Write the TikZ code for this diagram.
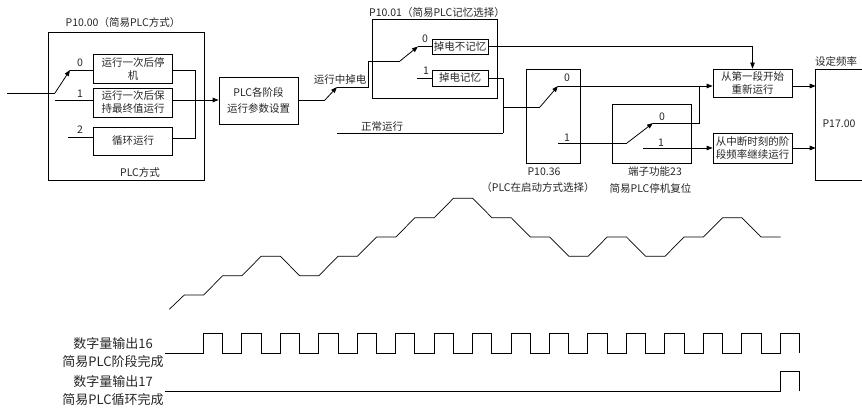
\documentclass[tikz,border=0pt]{standalone}
\usepackage{fontspec}
\setmainfont{Noto Sans CJK SC}
\usetikzlibrary{arrows.meta, positioning}

\begin{document}
\begin{tikzpicture}[x=1pt, y=-1pt,
  panel/.style={draw, line width=0.8pt, inner sep=0pt},
  box/.style={draw, line width=0.8pt, minimum width=79pt, align=center, inner sep=1pt, text=black!85, font=\fontsize{10.5}{13}\selectfont},
  wire/.style={line width=0.8pt},
  sig/.style={wire, -{Triangle[length=6pt, width=4.5pt]}},
  tag/.style={inner sep=1pt, text=black!85, font=\fontsize{10.5}{13}\selectfont},
  bigtag/.style={align=center, text=black!85, font=\fontsize{13}{18}\selectfont}
]
  \useasboundingbox (0,0) rectangle (862,409);

  % PLC mode block (P10.00)
  \node[panel, minimum width=156pt, minimum height=148pt] (pmode) at (126,106) {};
  \node[tag] (pmodet) at (123,23) {P10.00（简易PLC方式）};
  \node[tag] (pmodeb) at (140,172) {PLC方式};
  \node[box, minimum height=29pt] (once) at (133,68.5) {运行一次后停\\机};
  \node[box, minimum height=29pt] (hold) at (133,102.5) {运行一次后保\\持最终值运行};
  \node[box, minimum height=28pt] (cyc)  at (133,141) {循环运行};

  % switch points of the mode selector
  \coordinate (in) at (7,93);
  \coordinate (pv) at (55,93);
  \coordinate (c0) at (70,70);
  \coordinate (c1) at (55,100);
  \coordinate (c2) at (68,137);
  \coordinate (mj) at (195,138);
  \node[tag] (n0) at (80,63) {0};
  \node[tag] (n1) at (80,94) {1};
  \node[tag] (n2) at (80,130) {2};

  \draw[wire] (in) -- (pv);
  \draw[sig] (pv) -- (c0);
  \draw[wire] (c0) -- (once.west |- c0);
  \draw[wire] (c1) -- (hold.west |- c1);
  \draw[wire] (c2) -- (cyc.west |- c2);
  \draw[wire] (once.east |- c0) -| (mj) -- (cyc.east |- mj);

  % stage parameters
  \node[box, minimum height=47pt, font=\fontsize{10.5}{16}\selectfont] (par) at (258.5,100.5) {PLC各阶段\\运行参数设置};
  \draw[sig] (hold.east |- c1) -- (par.west |- c1);

  % power loss memory (P10.01)
  \node[panel, minimum width=125pt, minimum height=79pt] (pmem) at (434.5,58.5) {};
  \node[tag] (pmemt) at (437,13) {P10.01（简易PLC记忆选择）};
  \node[box, minimum width=56pt, minimum height=15pt] (nm)  at (460,46.5) {掉电不记忆};
  \node[box, minimum width=56pt, minimum height=16pt] (mem) at (460,78) {掉电记忆};
  \node[tag] (m0) at (425,39) {0};
  \node[tag] (m1) at (426,71) {1};
  \node[tag] (lost) at (340,80) {运行中掉电};
  \node[tag] (norm) at (382,127) {正常运行};

  \coordinate (p1) at (325,100);
  \coordinate (p2) at (337,87);
  \coordinate (p3) at (368,61);
  \coordinate (p4) at (400,61);
  \coordinate (p5) at (418,46.5);
  \coordinate (q1) at (417,78);
  \coordinate (nr) at (337,133);
  \coordinate (j1) at (503,133);
  \coordinate (j2) at (503,107);

  \draw[wire] (par.east |- p1) -- (p1);
  \draw[sig] (p1) -- (p2);
  \draw[wire] (p2) -| (p3) -- (p4);
  \draw[sig] (p4) -- (p5);
  \draw[wire] (p5) -- (nm.west);
  \draw[wire] (q1) -- (mem.west);
  \draw[wire] (mem.east) -| (j1);
  \draw[wire] (nr) -- (j1);

  % restart mode (P10.36)
  \node[panel, minimum width=54pt, minimum height=94pt] (pst) at (553,116) {};
  \node[tag] (pstt) at (544,172) {P10.36};
  \node[tag] (pstb) at (538,188) {（PLC在启动方式选择）};
  \node[tag] (k0) at (567,78) {0};
  \node[tag] (k1) at (567,138) {1};

  % terminal function 23
  \node[panel, minimum width=79pt, minimum height=59pt] (trm) at (651.5,133.5) {};
  \node[tag] (trmt) at (655,172) {端子功能23};
  \node[tag] (trmb) at (650.5,188) {简易PLC停机复位};
  \node[tag] (h0) at (662,117) {0};
  \node[tag] (h1) at (661,143) {1};

  % run modes
  \node[box, minimum height=28pt] (r1) at (752.5,83) {从第一段开始\\重新运行};
  \node[box, minimum height=30pt] (r2) at (752.5,148) {从中断时刻的阶\\段频率继续运行};

  \coordinate (s0) at (540,107);
  \coordinate (s1) at (558,86);
  \coordinate (t0) at (558,143);
  \coordinate (t1) at (627,143);
  \coordinate (t2) at (653,123);
  \coordinate (t3) at (699,86);
  \coordinate (u0) at (643,148);

  \draw[wire] (j2) -- (s0);
  \draw[sig] (s0) -- (s1);
  \draw[sig] (s1) -- (r1.west |- s1);
  \draw[wire] (t0) -- (t1);
  \draw[sig] (t1) -- (t2);
  \draw[wire] (t2) -| (t3);
  \draw[sig] (u0) -- (r2.west |- u0);
  \draw[sig] (nm.east) -| (r1.north);

  % set frequency (P17.00)
  \coordinate (ftl) at (815.7,69.3);
  \coordinate (fbl) at (815.7,180);
  \draw[wire] (870,69.3) -- (ftl) -- (fbl) -- (870,180);
  \node[tag] (frq) at (839,124) {P17.00};
  \node[tag] (fset) at (836,61) {设定频率};
  \draw[sig] (r1.east |- s1) -- (ftl |- s1);
  \draw[sig] (r2.east |- u0) -- (ftl |- u0);

  % frequency curve
  \draw[line width=0.7pt] (169.3,309.3) -- (184.3,295) -- (203.6,295) -- (222.7,275.7) -- (242,275.7)
    -- (261.1,256.3) -- (280.4,256.3) -- (299.6,275.7) -- (318.9,275.7) -- (338,256.3) -- (357.3,256.3)
    -- (376.5,237) -- (395.8,237) -- (415,217.7) -- (434.3,217.7) -- (453.4,198.3) -- (472.7,198.3)
    -- (491.9,217.7) -- (511.2,217.7) -- (530.3,237) -- (549.6,237) -- (568.8,256.3) -- (588.1,256.3)
    -- (607.2,237) -- (626.5,237) -- (645.7,256.3) -- (665,256.3) -- (684.1,237) -- (703.4,237)
    -- (722.6,217.7) -- (741.9,217.7) -- (761,237) -- (780.5,237);

  % digital outputs
  \node[bigtag] (do16) at (113,353) {数字量输出16\\简易PLC阶段完成};
  \node[bigtag] (do17) at (113,391) {数字量输出17\\简易PLC循环完成};
  \draw[wire] (165,353) \foreach \k in {0,...,15}{ -- ({203.3+38.45*\k},353) |- ++(19.3,-19.4) -- ++(0,19.4) };
  \draw[wire] (165,391) -- (780.7,391) |- (799.3,371.7) -- (799.3,391);

\end{tikzpicture}
\end{document}
